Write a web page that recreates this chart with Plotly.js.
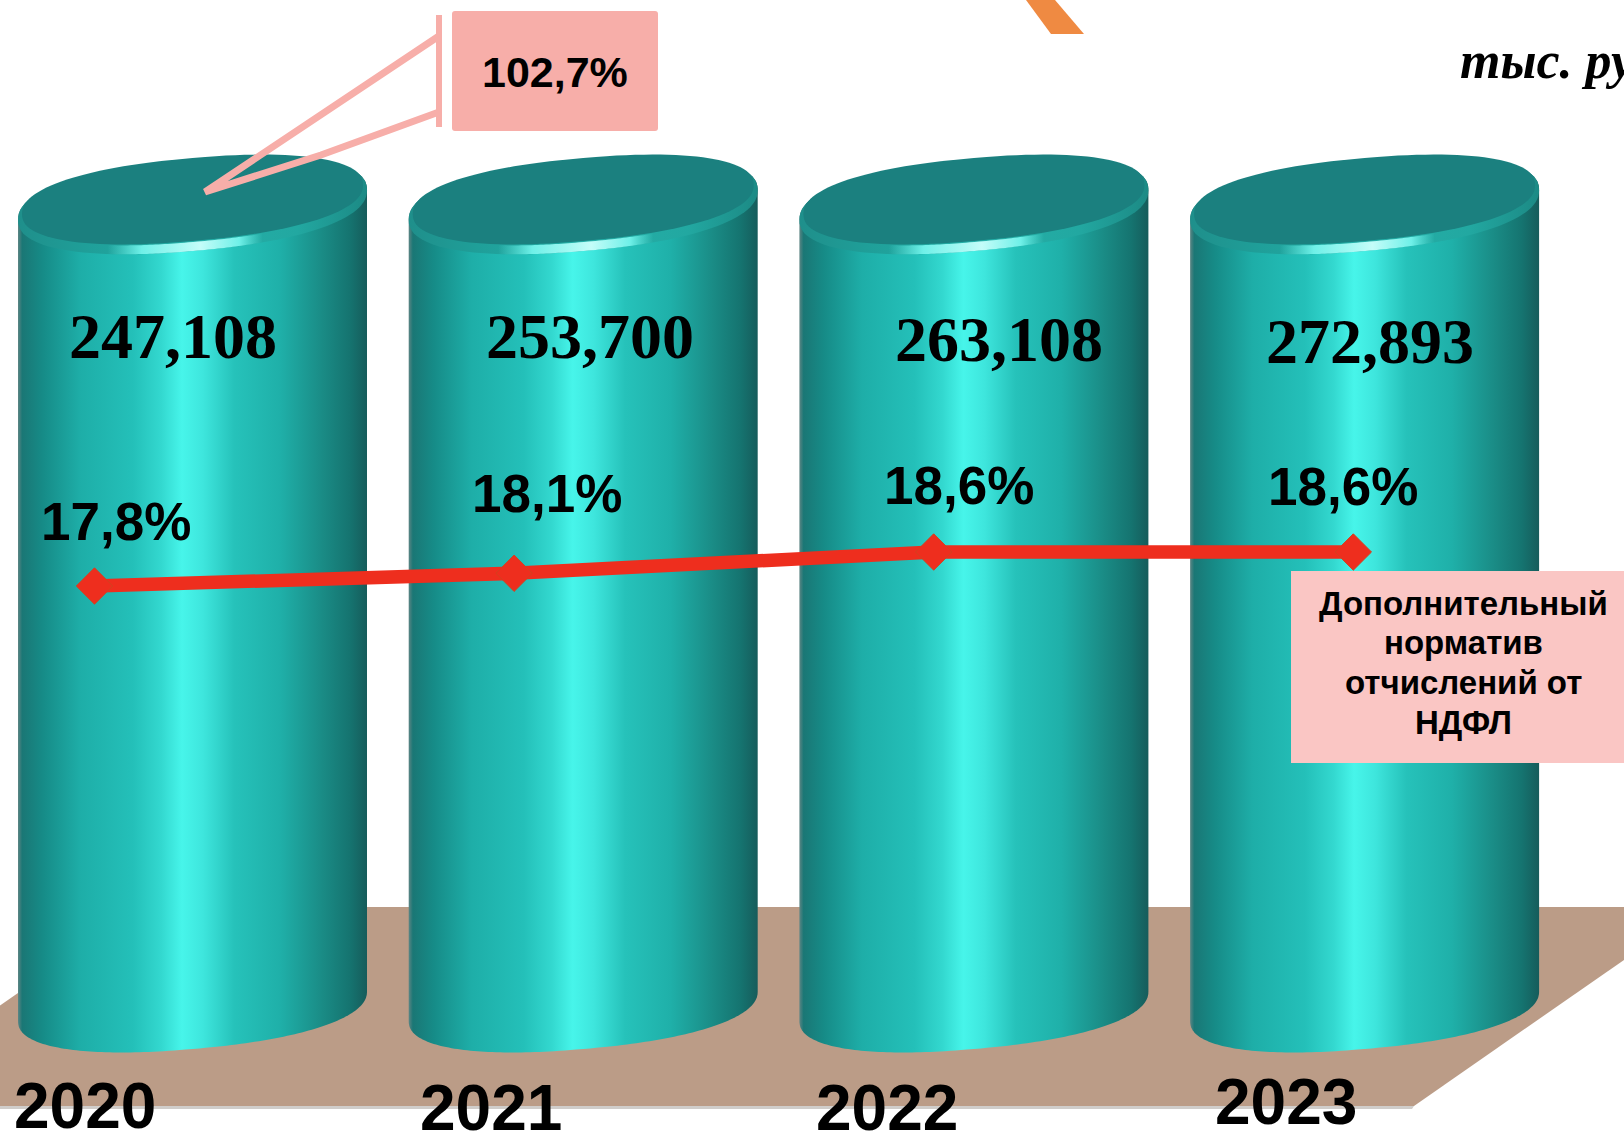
<!DOCTYPE html>
<html><head><meta charset="utf-8">
<script src="https://cdn.plot.ly/plotly-3.0.1.min.js"></script>
<style>html,body{margin:0;padding:0;background:#fff;overflow:hidden}#c{width:1624px;height:1133px}</style>
</head><body><div id="c"></div>
<script>
// ---- chart data ----
const years = [2020, 2021, 2022, 2023];
const yearLabels = ['2020', '2021', '2022', '2023'];
const revenueLabels = ['247,108', '253,700', '263,108', '272,893'];
const sharePercent = [17.8, 18.1, 18.6, 18.6];
const shareLabels = ['17,8%', '18,1%', '18,6%', '18,6%'];
const growthLabel = '102,7%';
const unitLabel = 'тыс. руб.';
const noteLines = ['Дополнительный', 'норматив', 'отчислений от', 'НДФЛ'];

// ---- placement of the text in page pixels ----
const revenuePos = [[173,336],[590,336],[999,339],[1370,342]];
const sharePos = [[116,521],[547,493],[959,485],[1343,486]];
const yearPos = [[85,1106],[491,1108],[887,1108],[1286,1102]];
const notePos = [[1463,603],[1463,642],[1463,682],[1463,722]];

const W = 1624, H = 1133;
const px = v => v / W, py = v => 1 - v / H;

// cylinder axis: 2020 -> 192.5 px, one year = 390.7 px
const YEAR_PX = 390.7, C0 = 192.5;
const xRange = [2020 - C0 / YEAR_PX, 2020 + (W - C0) / YEAR_PX];
// line axes: 2020 -> 94 px, one year = 419.6 px; 17.8 -> 586 px, one point = 42.5 px
const x2Range = [2020 - 94.5 / 419.6, 2020 + (W - 94.5) / 419.6];
const y2Range = [17.8 - (H - 586) / 42.5, 17.8 + 586 / 42.5];

const A = 174.5, TILT = 0.085, ROUND = 0.88;
const pw = v => Math.sign(v) * Math.pow(Math.abs(v), ROUND);
function ell(yr, cy, a, b, t0, t1) {
  const xs = [], ys = [], n = 120;
  for (let i = 0; i <= n; i++) {
    const t = (t0 + (t1 - t0) * i / n) * Math.PI / 180;
    const ca = pw(Math.cos(t)), sa = pw(Math.sin(t));
    xs.push(yr + a * ca / YEAR_PX);
    ys.push(cy - TILT * a * ca - b * sa);
  }
  return [xs, ys];
}
const bodyScale = [[0,'#5d8584'],[0.012,'#1a7775'],[0.07,'#168b87'],[0.18,'#1eaea8'],[0.33,'#24c0b9'],
  [0.41,'#33d8cf'],[0.47,'#47f5ea'],[0.53,'#3ee6dd'],[0.62,'#26c2ba'],[0.75,'#1fb0a9'],
  [0.87,'#1a8c86'],[0.95,'#157470'],[1,'#165c5b']];
const rimScale = [[0,'#1f8f8b'],[0.2,'#1f9f99'],[0.5,'#25b0a9'],[0.8,'#22a8a1'],[1,'#1c8a85']];
const glowScale = [[0,'rgba(90,235,225,0)'],[0.22,'#6ff0e8'],[0.6,'#c4fdf9'],[0.85,'#6ff0e8'],[1,'rgba(90,235,225,0)']];

const traces = [];
years.forEach(yr => {
  const w = A / YEAR_PX;
  const top = ell(yr, 205, A, 46, 180, 0);
  const bot = ell(yr, 1006, A, 43, 0, -180);
  traces.push({ x: top[0].concat(bot[0]), y: top[1].concat(bot[1]), mode: 'none', fill: 'toself',
    fillgradient: { type: 'horizontal', start: yr - w, stop: yr + w, colorscale: bodyScale },
    hoverinfo: 'skip', showlegend: false });
  const cap = ell(yr, 205, A, 46, 0, 360);
  traces.push({ x: cap[0], y: cap[1], mode: 'none', fill: 'toself',
    fillgradient: { type: 'horizontal', start: yr - w, stop: yr + w, colorscale: rimScale },
    hoverinfo: 'skip', showlegend: false });
  const a1 = ell(yr, 205, A - 2, 46, 205, 315);
  const a2 = ell(yr, 199, A - 2, 43, 315, 205);
  traces.push({ x: a1[0].concat(a2[0]), y: a1[1].concat(a2[1]), mode: 'none', fill: 'toself',
    fillgradient: { type: 'horizontal', start: yr - 85 / YEAR_PX, stop: yr + 70 / YEAR_PX, colorscale: glowScale },
    hoverinfo: 'skip', showlegend: false });
  const dark = ell(yr, 199.5, A - 4, 41.5, 0, 360);
  traces.push({ x: dark[0], y: dark[1], mode: 'none', fill: 'toself', fillcolor: '#1b807f',
    hoverinfo: 'skip', showlegend: false });
});
traces.push({ x: years, y: sharePercent, xaxis: 'x2', yaxis: 'y2', mode: 'lines+markers',
  line: { color: '#ee2e1e', width: 13.5 },
  marker: { symbol: 'diamond', size: 28, color: '#ee2e1e', line: { color: '#d2421f', width: 1 } },
  hoverinfo: 'skip', showlegend: false });

const poly = (pts) => 'M' + pts.map(p => px(p[0]) + ',' + py(p[1])).join('L');
const shape = (o) => Object.assign({ xref: 'paper', yref: 'paper' }, o);
const rounded = (x0, y0, x1, y1, r) => {
  const P = (x, y) => px(x) + ',' + py(y);
  return 'M' + P(x0 + r, y0) + 'L' + P(x1 - r, y0) + 'Q' + P(x1, y0) + ' ' + P(x1, y0 + r) +
    'L' + P(x1, y1 - r) + 'Q' + P(x1, y1) + ' ' + P(x1 - r, y1) +
    'L' + P(x0 + r, y1) + 'Q' + P(x0, y1) + ' ' + P(x0, y1 - r) +
    'L' + P(x0, y0 + r) + 'Q' + P(x0, y0) + ' ' + P(x0 + r, y0) + 'Z';
};
const shapes = [
  shape({ type: 'path', layer: 'below', path: poly([[142,907],[1700,907],[1414,1106],[-145,1106]]) + 'Z', fillcolor: '#bb9c87', line: { width: 0 } }),
  shape({ type: 'path', layer: 'below', path: poly([[0,1106],[1414,1106],[1412,1109],[0,1109]]) + 'Z', fillcolor: '#d0cdca', line: { width: 0 } }),
  shape({ type: 'path', layer: 'below', path: poly([[1026,0],[1055,0],[1084,34],[1051,34]]) + 'Z', fillcolor: '#ef8a42', line: { width: 0 } }),
  shape({ type: 'path', layer: 'above', path: poly([[439,36],[205,192],[321,155],[439,112]]), line: { color: '#f7aea9', width: 7 }, fillcolor: 'rgba(0,0,0,0)' }),
  shape({ type: 'path', layer: 'above', path: poly([[439,15],[439,127]]), line: { color: '#f7aea9', width: 6 } }),
  shape({ type: 'path', layer: 'above', path: rounded(452, 11, 658, 131, 3), fillcolor: '#f7aea9', line: { width: 0 } }),
  shape({ type: 'rect', layer: 'above', x0: px(1291), x1: px(1624), y0: py(571), y1: py(763), fillcolor: '#fac6c4', line: { width: 0 } })
];

const note = (text, pos, family, size, extra) => Object.assign({
  xref: 'paper', yref: 'paper', x: px(pos[0]), y: py(pos[1]), text, showarrow: false,
  xanchor: 'center', yanchor: 'middle', font: { family, size, color: '#000' }
}, extra || {});
const SERIF = '"Liberation Serif", serif', SANS = '"Liberation Sans", Arial, sans-serif';
const annotations = [];
revenueLabels.forEach((t, i) => annotations.push(note('<b>' + t + '</b>', revenuePos[i], SERIF, 64)));
shareLabels.forEach((t, i) => annotations.push(note('<b>' + t + '</b>', sharePos[i], SANS, 53)));
yearLabels.forEach((t, i) => annotations.push(note('<b>' + t + '</b>', yearPos[i], SANS, 64)));
annotations.push(note('<b>' + growthLabel + '</b>', [555, 72], SANS, 43));
noteLines.forEach((t, i) => annotations.push(note('<b>' + t + '</b>', notePos[i], SANS, 33)));
annotations.push(note('<b><i>' + unitLabel + '</i></b>', [1458, 60], SERIF, 52, { xanchor: 'left' }));

const hidden = { visible: false, fixedrange: true, showgrid: false, zeroline: false };
Plotly.newPlot('c', traces, {
  width: W, height: H, margin: { l: 0, r: 0, t: 0, b: 0 },
  paper_bgcolor: '#fff', plot_bgcolor: 'rgba(0,0,0,0)', showlegend: false,
  xaxis: Object.assign({ range: xRange }, hidden),
  yaxis: Object.assign({ range: [H, 0] }, hidden),
  xaxis2: Object.assign({ range: x2Range, overlaying: 'x' }, hidden),
  yaxis2: Object.assign({ range: y2Range, overlaying: 'y' }, hidden),
  shapes, annotations
}, { displayModeBar: false, staticPlot: true });
</script></body></html>
